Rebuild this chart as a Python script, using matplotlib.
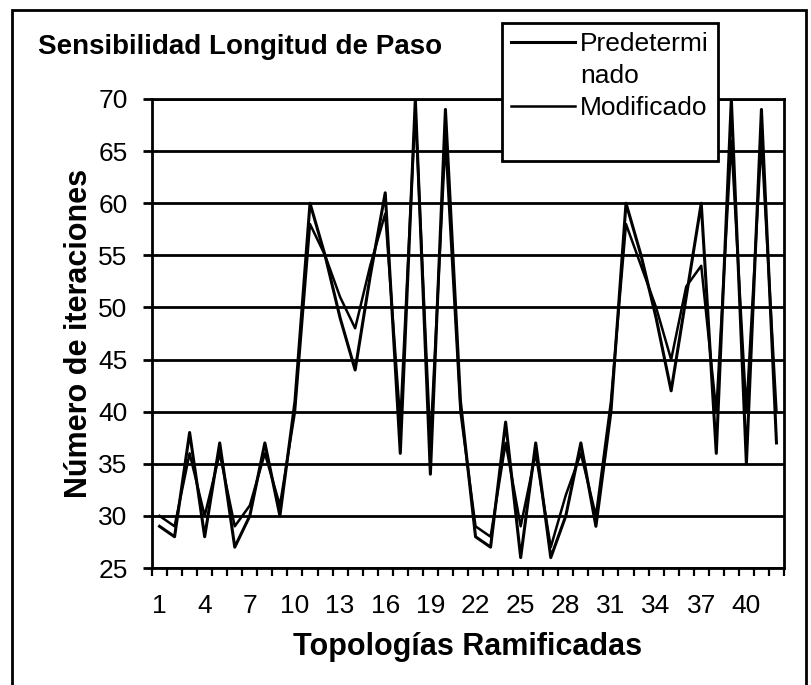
import numpy as np
import matplotlib
matplotlib.use("Agg")
import matplotlib.pyplot as plt
from matplotlib.lines import Line2D
from matplotlib.patches import Rectangle

plt.rcParams['font.family'] = ['Liberation Sans', 'DejaVu Sans']

# data (42 branched topologies)
topologias = np.arange(1, 43)
predeterminado = [29, 28, 38, 28, 37, 27, 30, 37, 30, 41,
                  60, 55, 49, 44, 53, 61, 36, 70, 34, 69,
                  41, 28, 27, 39, 26, 37, 26, 30, 37, 29,
                  40, 60, 55, 49, 42, 51, 60, 36, 70, 35,
                  69, 37]
modificado = [30, 29, 36, 30, 36, 29, 31, 36, 31, 40,
              58, 55, 51, 48, 54, 59, 39, 69, 37, 66,
              40, 29, 28, 37, 29, 36, 27, 32, 36, 30,
              41, 58, 54, 50, 45, 52, 54, 40, 66, 40,
              66, 40]
etiquetas_x = [1, 4, 7, 10, 13, 16, 19, 22, 25, 28, 31, 34, 37, 40]
ticks_y = [25, 30, 35, 40, 45, 50, 55, 60, 65, 70]

W, H = 811, 685
fig = plt.figure(figsize=(W / 100, H / 100), dpi=100)
ax = fig.add_axes([152 / W, 1 - 568 / H, (784 - 152) / W, (568 - 99) / H])

ax.plot(topologias, predeterminado, color='k', lw=2.2, zorder=3)
ax.plot(topologias, modificado, color='k', lw=1.8, zorder=3)

# axes limits and grid
ax.set_xlim(0.5, 42.5)
ax.set_ylim(25, 70)
ax.set_yticks(ticks_y)
ax.yaxis.grid(True, color='k', lw=2.0)
ax.set_axisbelow(True)
for s in ax.spines.values():
    s.set_linewidth(2.0)
    s.set_color('k')

# x ticks: marks between categories, labels every 3rd category
ax.set_xticks(np.arange(0.5, 43, 1.0))
ax.set_xticklabels([])
ax.set_xticks(etiquetas_x, minor=True)
ax.set_xticklabels([str(v) for v in etiquetas_x], minor=True)
ax.tick_params(axis='x', which='major', direction='out', length=6, width=1.6)
ax.tick_params(axis='x', which='minor', length=0, pad=19, labelsize=19)
ax.tick_params(axis='y', direction='out', length=6.5, width=2.0, pad=11, labelsize=19)

ax.set_xlabel('Topologías Ramificadas', fontsize=22, fontweight='bold', labelpad=10)
ax.set_ylabel('Número de iteraciones', fontsize=22, fontweight='bold', labelpad=3)

fig.text(38 / W, 1 - 47 / H, 'Sensibilidad Longitud de Paso', fontsize=20,
         fontweight='bold', ha='left', va='center')

# legend (label wraps like the original)
handles = [Line2D([], [], color='k', lw=2.2),
           Line2D([], [], color='none'),
           Line2D([], [], color='k', lw=1.8),
           Line2D([], [], color='none')]
leg = ax.legend(handles, ['Predetermi', 'nado', 'Modificado', ' '],
                loc='upper left', bbox_to_anchor=(502 / W, 1 - 23 / H),
                bbox_transform=fig.transFigure, borderaxespad=0,
                fontsize=19, handlelength=2.4, handletextpad=0.2,
                labelspacing=0.3, borderpad=0.35, frameon=True,
                fancybox=False, framealpha=1)
leg.get_frame().set_edgecolor('k')
leg.get_frame().set_linewidth(2.0)

# outer chart border
fig.add_artist(Rectangle((12 / W, -0.1), (806 - 12) / W, 1.1 - 10 / H,
                         transform=fig.transFigure, fill=False, lw=2.0,
                         edgecolor='k'))

fig.savefig('out.png', dpi=100, facecolor='white')
